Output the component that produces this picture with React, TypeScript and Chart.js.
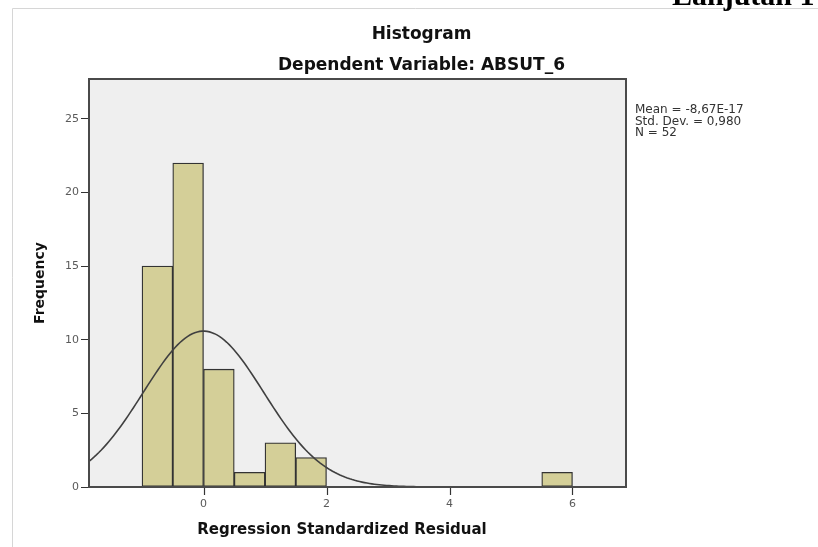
import React, { useEffect, useRef } from "react";
import { Chart, registerables } from "chart.js";

Chart.register(...registerables);

// ---- data ----
const binStarts = [-1, -0.5, 0, 0.5, 1, 1.5, 5.5];
const binCounts = [15, 22, 8, 1, 3, 2, 1];
const binWidth = 0.5;
const xTickValues = [0, 2, 4, 6];
const yTickValues = [0, 5, 10, 15, 20, 25];
const statLines = ["Mean = -8,67E-17", "Std. Dev. = 0,980", "N = 52"];
const statMean = -8.67e-17;
const statSd = 0.98;
const statN = 52;
const titleText = "Histogram";
const subtitleText = "Dependent Variable: ABSUT_6";
const xTitleText = "Regression Standardized Residual";
const yTitleText = "Frequency";
const cornerText = "Lanjutan 1";
const xMin = -1.862;
const xMax = 6.87;
const yMax = 27.7;

const W = 818;
const H = 547;
const SANS = "'DejaVu Sans', sans-serif";

function normalCurve() {
  const pts: { x: number; y: number }[] = [];
  const k = (statN * binWidth) / (statSd * Math.sqrt(2 * Math.PI));
  for (let x = xMin; x <= xMax + 1e-9; x += 0.04) {
    const z = (x - statMean) / statSd;
    pts.push({ x, y: k * Math.exp(-0.5 * z * z) });
  }
  return pts;
}

const decor = {
  id: "decor",
  beforeDraw(chart: any) {
    const { ctx, chartArea: a } = chart;
    ctx.save();
    ctx.fillStyle = "#ffffff";
    ctx.fillRect(0, 0, chart.width, chart.height);
    ctx.strokeStyle = "#d6d6d6";
    ctx.lineWidth = 1;
    ctx.beginPath();
    ctx.moveTo(12.5, H);
    ctx.lineTo(12.5, 8.5);
    ctx.lineTo(W, 8.5);
    ctx.stroke();
    ctx.fillStyle = "#efefef";
    ctx.fillRect(a.left, a.top, a.right - a.left, a.bottom - a.top);
    ctx.restore();
  },
  afterDraw(chart: any) {
    const { ctx, chartArea: a } = chart;
    const xs = chart.scales.x;
    ctx.save();
    // x tick marks
    ctx.strokeStyle = "#333";
    ctx.lineWidth = 1.2;
    xTickValues.forEach((v) => {
      const px = Math.round(xs.getPixelForValue(v)) + 0.5;
      ctx.beginPath();
      ctx.moveTo(px, a.bottom);
      ctx.lineTo(px, a.bottom + 8);
      ctx.stroke();
    });
    // plot border
    ctx.strokeStyle = "#4a4a4a";
    ctx.lineWidth = 2;
    ctx.strokeRect(a.left, a.top, a.right - a.left, a.bottom - a.top);
    // titles
    ctx.fillStyle = "#111";
    ctx.textAlign = "center";
    ctx.textBaseline = "alphabetic";
    ctx.font = `bold 17px ${SANS}`;
    ctx.fillText(titleText, 421.5, 39);
    ctx.fillText(subtitleText, 421.5, 70);
    // x axis title
    ctx.font = `bold 15px ${SANS}`;
    ctx.fillText(xTitleText, 342, 533.5);
    // stats
    ctx.fillStyle = "#333";
    ctx.textAlign = "left";
    ctx.font = `12px ${SANS}`;
    statLines.forEach((s, i) => ctx.fillText(s, 635, 113 + i * 11.5));
    // corner text
    ctx.fillStyle = "#000";
    ctx.font = `bold 30px 'Liberation Serif', serif`;
    ctx.fillText(cornerText, 672, 5);
    ctx.restore();
  },
};

export default function App() {
  const ref = useRef<HTMLCanvasElement | null>(null);
  useEffect(() => {
    if (!ref.current) return;
    const chart = new Chart(ref.current, {
      type: "bar",
      data: {
        datasets: [
          {
            type: "line",
            data: normalCurve(),
            borderColor: "#404040",
            borderWidth: 1.6,
            pointRadius: 0,
            fill: false,
            tension: 0,
            order: 0,
          } as any,
          {
            type: "bar",
            data: binStarts.map((s, i) => ({ x: s + binWidth / 2, y: binCounts[i] })),
            backgroundColor: "#d4cf98",
            borderColor: "#333333",
            borderWidth: 1.3,
            borderSkipped: false,
            barPercentage: 1,
            categoryPercentage: 1,
            order: 1,
          } as any,
        ],
      },
      options: {
        animation: false,
        responsive: false,
        devicePixelRatio: 1,
        layout: { padding: { left: 0, top: 79, right: W - 626, bottom: 0 } },
        plugins: {
          legend: { display: false },
          tooltip: { enabled: false },
          title: { display: false },
        },
        scales: {
          x: {
            type: "linear",
            position: "bottom",
            offset: false,
            min: xMin,
            max: xMax,
            afterBuildTicks: (s: any) => {
              s.ticks = xTickValues.map((v) => ({ value: v }));
            },
            afterFit: (s: any) => {
              s.height = 60;
            },
            grid: {
              display: false,
              offset: false,
              drawOnChartArea: false,
              drawTicks: true,
              tickLength: 8,
            },
            border: { display: false },
            ticks: {
              autoSkip: false,
              maxRotation: 0,
              padding: 3,
              color: "#5a5a5a",
              font: { family: SANS, size: 11 },
              callback: (v: any) => String(v),
            },
            title: { display: false },
          },
          y: {
            type: "linear",
            min: 0,
            max: yMax,
            afterBuildTicks: (s: any) => {
              s.ticks = yTickValues.map((v) => ({ value: v }));
            },
            afterFit: (s: any) => {
              s.width = 89;
            },
            grid: {
              display: true,
              drawOnChartArea: false,
              drawTicks: true,
              tickLength: 8,
              color: "#333",
              lineWidth: 1,
            },
            border: { display: false },
            ticks: {
              padding: 2,
              color: "#5a5a5a",
              font: { family: SANS, size: 11 },
              callback: (v: any) => String(v),
            },
            title: {
              display: true,
              text: yTitleText,
              color: "#111",
              font: { family: SANS, size: 14, weight: "bold" },
              padding: { top: 32, bottom: 0 },
            },
          },
        },
      },
      plugins: [decor],
    } as any);
    return () => chart.destroy();
  }, []);
  return (
    <div style={{ position: "absolute", left: 0, top: 0, width: W, height: H }}>
      <canvas ref={ref} width={W} height={H} style={{ display: "block", width: W, height: H }} />
    </div>
  );
}
